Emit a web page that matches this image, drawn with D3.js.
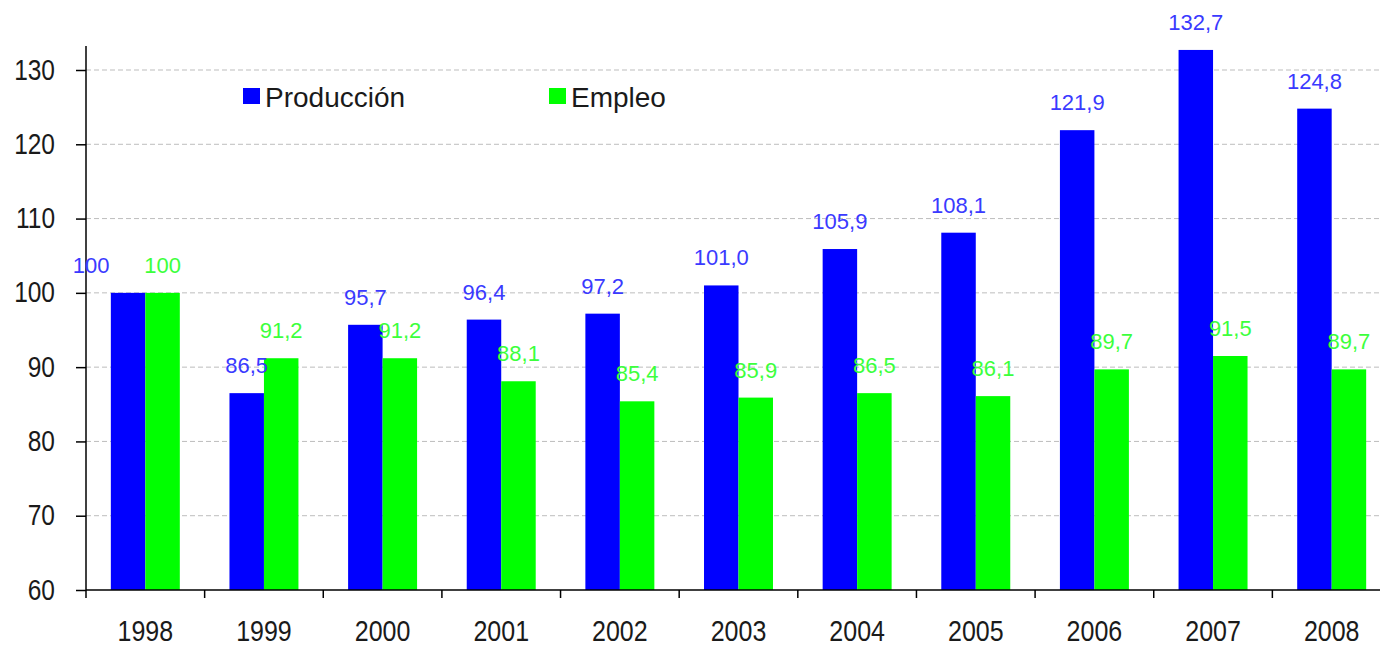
<!DOCTYPE html>
<html>
<head>
<meta charset="utf-8">
<script src="https://cdn.jsdelivr.net/npm/d3@7"></script>
<style>
  html, body { margin: 0; padding: 0; background: #fff; }
  svg { display: block; font-family: "Liberation Sans", Arial, sans-serif; }
</style>
</head>
<body>
<svg id="chart" width="1380" height="647"></svg>
<script>
const years = ["1998","1999","2000","2001","2002","2003","2004","2005","2006","2007","2008"];
const produccion = [100, 86.5, 95.7, 96.4, 97.2, 101.0, 105.9, 108.1, 121.9, 132.7, 124.8];
const empleo = [100, 91.2, 91.2, 88.1, 85.4, 85.9, 86.5, 86.1, 89.7, 91.5, 89.7];
const produccionLabels = ["100","86,5","95,7","96,4","97,2","101,0","105,9","108,1","121,9","132,7","124,8"];
const empleoLabels = ["100","91,2","91,2","88,1","85,4","85,9","86,5","86,1","89,7","91,5","89,7"];
const yTicks = [60, 70, 80, 90, 100, 110, 120, 130];
const seriesNames = ["Producción", "Empleo"];

const barColors = ["#0000ff", "#00ff00"];
const labelColors = ["#3a3aff", "#3cff3c"];

const svg = d3.select("#chart");
const mLeft = 86, mRight = 1391, mTop = 70, mBottom = 590;

const x0 = d3.scaleBand().domain(years).range([mLeft, mRight]).padding(0);
const x1 = d3.scaleBand().domain([0, 1]).range([0, x0.bandwidth()]).paddingInner(0).paddingOuter(0.72);
const y = d3.scaleLinear().domain([60, 130]).range([mBottom, mTop]);

// grid lines
svg.append("g").selectAll("line")
  .data(yTicks.filter(t => t > 60))
  .join("line")
  .attr("x1", mLeft).attr("x2", 1380)
  .attr("y1", d => y(d)).attr("y2", d => y(d))
  .attr("stroke", "#bdbdbd").attr("stroke-width", 1)
  .attr("stroke-dasharray", "5,3");

// bars
const series = [produccion, empleo];
const labels = [produccionLabels, empleoLabels];
series.forEach((vals, s) => {
  svg.append("g").selectAll("rect")
    .data(vals)
    .join("rect")
    .attr("x", (d, i) => x0(years[i]) + x1(s))
    .attr("width", x1.bandwidth())
    .attr("y", d => y(d))
    .attr("height", d => y(60) - y(d))
    .attr("fill", barColors[s]);
});

// y axis
const yAxis = d3.axisLeft(y).tickValues(yTicks).tickSize(10).tickPadding(20).tickFormat(d3.format("d"));
const yg = svg.append("g").attr("transform", `translate(${mLeft},0)`).call(yAxis);
yg.select(".domain").remove();
yg.selectAll(".tick line").attr("stroke", "#000").attr("stroke-width", 1.5);
yg.selectAll(".tick text")
  .attr("x", null).attr("dy", null)
  .attr("transform", "translate(-31,9) scale(1,1.2)")
  .attr("font-size", 24.5).attr("fill", "#1a1a1a")
  .attr("font-family", "'Liberation Sans', Arial, sans-serif");
svg.append("line").attr("x1", mLeft).attr("x2", mLeft).attr("y1", 46).attr("y2", mBottom)
  .attr("stroke", "#000").attr("stroke-width", 1.5);

// x axis
svg.append("line").attr("x1", mLeft).attr("x2", 1380).attr("y1", mBottom).attr("y2", mBottom)
  .attr("stroke", "#000").attr("stroke-width", 1.5);
svg.append("g").selectAll("line")
  .data(years)
  .join("line")
  .attr("x1", d => x0(d)).attr("x2", d => x0(d))
  .attr("y1", mBottom).attr("y2", mBottom + 8)
  .attr("stroke", "#000").attr("stroke-width", 1.5);
svg.append("g").selectAll("text")
  .data(years)
  .join("text")
  .attr("transform", d => `translate(${x0(d) + x0.bandwidth() / 2},641) scale(1,1.2)`)
  .attr("text-anchor", "middle")
  .attr("font-size", 25)
  .attr("fill", "#1a1a1a")
  .text(d => d);

// data labels
const firstLabelShift = -37;
series.forEach((vals, s) => {
  svg.append("g").selectAll("text")
    .data(vals)
    .join("text")
    .attr("x", (d, i) => x0(years[i]) + x1(s) + x1.bandwidth() / 2 + (s === 0 && i === 0 ? firstLabelShift : 0))
    .attr("y", d => y(d) - 20)
    .attr("text-anchor", "middle")
    .attr("font-size", 22)
    .attr("fill", labelColors[s])
    .text((d, i) => labels[s][i]);
});

// legend
const legendX = [243, 549];
const lg = svg.append("g");
seriesNames.forEach((name, s) => {
  lg.append("rect").attr("x", legendX[s]).attr("y", 88).attr("width", 17).attr("height", 16)
    .attr("fill", barColors[s]);
  lg.append("text").attr("x", legendX[s] + 22).attr("y", 107)
    .attr("font-size", 28).attr("fill", "#1a1a1a").text(name);
});
</script>
</body>
</html>
